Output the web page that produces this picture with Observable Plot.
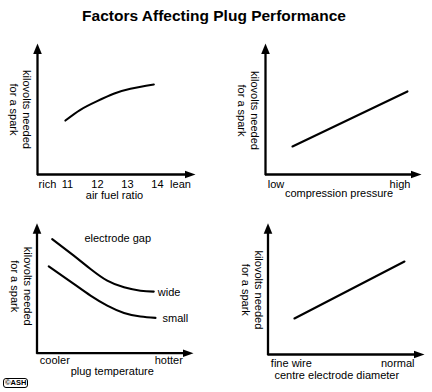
<!DOCTYPE html>
<html>
<head>
<meta charset="utf-8">
<script src="https://cdn.jsdelivr.net/npm/d3@7"></script>
<script src="https://cdn.jsdelivr.net/npm/@observablehq/plot@0.6"></script>
<style>
  html, body { margin: 0; padding: 0; background: #fff; }
  #wrap { position: relative; width: 432px; height: 392px; overflow: hidden; font-family: "Liberation Sans", Arial, sans-serif; color: #000; }
  #title { position: absolute; left: 0; top: 8px; width: 428px; text-align: center; font-weight: bold; font-size: 15.5px; line-height: 16px; }
  #copy { position: absolute; left: 3px; top: 378px; font-weight: bold; font-size: 7.5px; line-height: 8px; border: 1px solid #000; border-radius: 3px; padding: 0 1px; }
</style>
</head>
<body>
<div id="wrap">
  <div id="title">Factors Affecting Plug Performance</div>
  <div id="copy">©ASH</div>
</div>
<script>
// ---- Data ----
// Panel 1: air fuel ratio
const afrRatio = [10.93, 11.43, 11.99, 12.54, 13.1, 13.88];
const afrKilovolts = [4.12, 4.94, 5.6, 6.16, 6.54, 6.87];
const afrTickValues = [10.33, 11, 12, 13, 14, 14.77];
const afrTickLabels = ["rich", "11", "12", "13", "14", "lean"];

// Panel 2: compression pressure
const pressure = [1.73, 9.1];
const pressureKilovolts = [2.14, 6.34];
const pressureTickValues = [0.67, 8.62];
const pressureTickLabels = ["low", "high"];

// Panel 3: plug temperature, two electrode gaps
const gapNames = ["wide", "small"];
const tempWide = [0.97, 2.35, 3.42, 4.49, 5.56, 6.61, 7.46];
const kvWide = [8.78, 7.5, 6.48, 5.58, 5.07, 4.81, 4.74];
const tempSmall = [0.75, 2.35, 3.42, 4.49, 5.56, 6.61, 7.57];
const kvSmall = [6.68, 5.33, 4.43, 3.66, 3.1, 2.82, 2.72];
const tempTickValues = [1.14, 8.42];
const tempTickLabels = ["cooler", "hotter"];
const gapTitle = "electrode gap";

// Panel 4: centre electrode diameter
const diameter = [1.69, 8.72];
const diameterKilovolts = [2.74, 7.08];
const diameterTickValues = [1.49, 8.29];
const diameterTickLabels = ["fine wire", "normal"];

const yLabel = "kilovolts needed\nfor a spark";
const xLabels = ["air fuel ratio", "compression pressure", "plug temperature", "centre electrode diameter"];

// ---- Drawing ----
const FONT = "Liberation Sans, Arial, sans-serif";
const arrowUp = {draw(ctx) { ctx.moveTo(0, 0); ctx.lineTo(4.3, 10.5); ctx.lineTo(-4.3, 10.5); ctx.closePath(); }};
const arrowRight = {draw(ctx) { ctx.moveTo(0, 0); ctx.lineTo(-10.5, 3.8); ctx.lineTo(-10.5, -3.8); ctx.closePath(); }};

const pairs = (xs, ys, name) => xs.map((x, i) => ({x, y: ys[i], name}));
const ticksOf = (vals, labels) => vals.map((v, i) => ({value: v, label: labels[i]}));
const txt = {fontSize: 11, fill: "#000", lineAnchor: "middle"};

function panel(o) {
  const yDomain = [0, 10];
  const chart = Plot.plot({
    width: o.width, height: o.height,
    marginLeft: o.ml, marginRight: o.mr, marginTop: o.mt, marginBottom: o.mb,
    x: {domain: o.xDomain, axis: null},
    y: {domain: yDomain, axis: null},
    style: {fontFamily: FONT, fontSize: "11px", background: "transparent", overflow: "visible", color: "#000"},
    marks: [
      Plot.ruleX([o.xDomain[0]], {stroke: "#000", strokeWidth: 2.3, insetTop: 6, insetBottom: -1.15}),
      Plot.ruleY([yDomain[0]], {stroke: "#000", strokeWidth: 2.3, insetRight: 6}),
      Plot.dot([[o.xDomain[0], yDomain[1]]], {x: d => d[0], y: d => d[1], symbol: arrowUp, fill: "#000", stroke: "none"}),
      Plot.dot([[o.xDomain[1], yDomain[0]]], {x: d => d[0], y: d => d[1], symbol: arrowRight, fill: "#000", stroke: "none"}),
      ...o.marks,
      Plot.text(o.ticks, {...txt, x: "value", text: "label", frameAnchor: "bottom", textAnchor: "middle", dy: o.tickDy}),
      Plot.text([o.xLabel], {...txt, text: d => d, frameAnchor: "bottom", textAnchor: "middle", dx: o.xLabelDx, dy: o.xLabelDy}),
      Plot.text([yLabel], {...txt, text: d => d, frameAnchor: "left", textAnchor: "middle", rotate: 90, dx: o.yLabelDx, dy: o.yLabelDy, lineHeight: 1.17})
    ]
  });
  chart.style.position = "absolute";
  chart.style.left = o.left + "px";
  chart.style.top = o.top + "px";
  document.getElementById("wrap").appendChild(chart);
}

const lineStyle = {x: "x", y: "y", curve: "natural", stroke: "#000", strokeWidth: 2.1};

// Panel 1
panel({
  left: 0, top: 30, width: 216, height: 170, ml: 37, mr: 21, mt: 13, mb: 26,
  xDomain: [10, 15.27],
  marks: [Plot.line(pairs(afrRatio, afrKilovolts, "afr"), lineStyle)],
  ticks: ticksOf(afrTickValues, afrTickLabels), tickDy: 9.5,
  xLabel: xLabels[0], xLabelDx: -2, xLabelDy: 20.5,
  yLabelDx: -16.5, yLabelDy: 0.5
});

// Panel 2
panel({
  left: 216, top: 30, width: 216, height: 170, ml: 49, mr: 11, mt: 13, mb: 26,
  xDomain: [0, 10],
  marks: [Plot.line(pairs(pressure, pressureKilovolts, "p"), lineStyle)],
  ticks: ticksOf(pressureTickValues, pressureTickLabels), tickDy: 9.5,
  xLabel: xLabels[1], xLabelDx: -4.5, xLabelDy: 19,
  yLabelDx: -17.3, yLabelDy: 1.5
});

// Panel 3
const gapData = [...pairs(tempWide, kvWide, gapNames[0]), ...pairs(tempSmall, kvSmall, gapNames[1])];
panel({
  left: 0, top: 200, width: 216, height: 192, ml: 36.5, mr: 23, mt: 22.7, mb: 39.3,
  xDomain: [0, 10],
  marks: [
    Plot.line(gapData, {...lineStyle, z: "name"}),
    Plot.text(gapData.filter(d => d.name === gapNames[0]), Plot.selectLast({...txt, x: "x", y: "y", text: "name", textAnchor: "start", dx: 4, dy: 0.5})),
    Plot.text(gapData.filter(d => d.name === gapNames[1]), Plot.selectLast({...txt, x: "x", y: "y", text: "name", textAnchor: "start", dx: 7, dy: 0.7})),
    Plot.text([gapTitle], {...txt, text: d => d, frameAnchor: "top", textAnchor: "middle", dx: 2.5, dy: 15})
  ],
  ticks: ticksOf(tempTickValues, tempTickLabels), tickDy: 7.5,
  xLabel: xLabels[2], xLabelDx: -3, xLabelDy: 18.5,
  yLabelDx: -15.75, yLabelDy: -2
});

// Panel 4
panel({
  left: 216, top: 200, width: 216, height: 192, ml: 51.5, mr: 8, mt: 22.7, mb: 38,
  xDomain: [0, 10],
  marks: [Plot.line(pairs(diameter, diameterKilovolts, "d"), lineStyle)],
  ticks: ticksOf(diameterTickValues, diameterTickLabels), tickDy: 9,
  xLabel: xLabels[3], xLabelDx: -9.5, xLabelDy: 20.5,
  yLabelDx: -15.7, yLabelDy: 1
});
</script>
</body>
</html>
